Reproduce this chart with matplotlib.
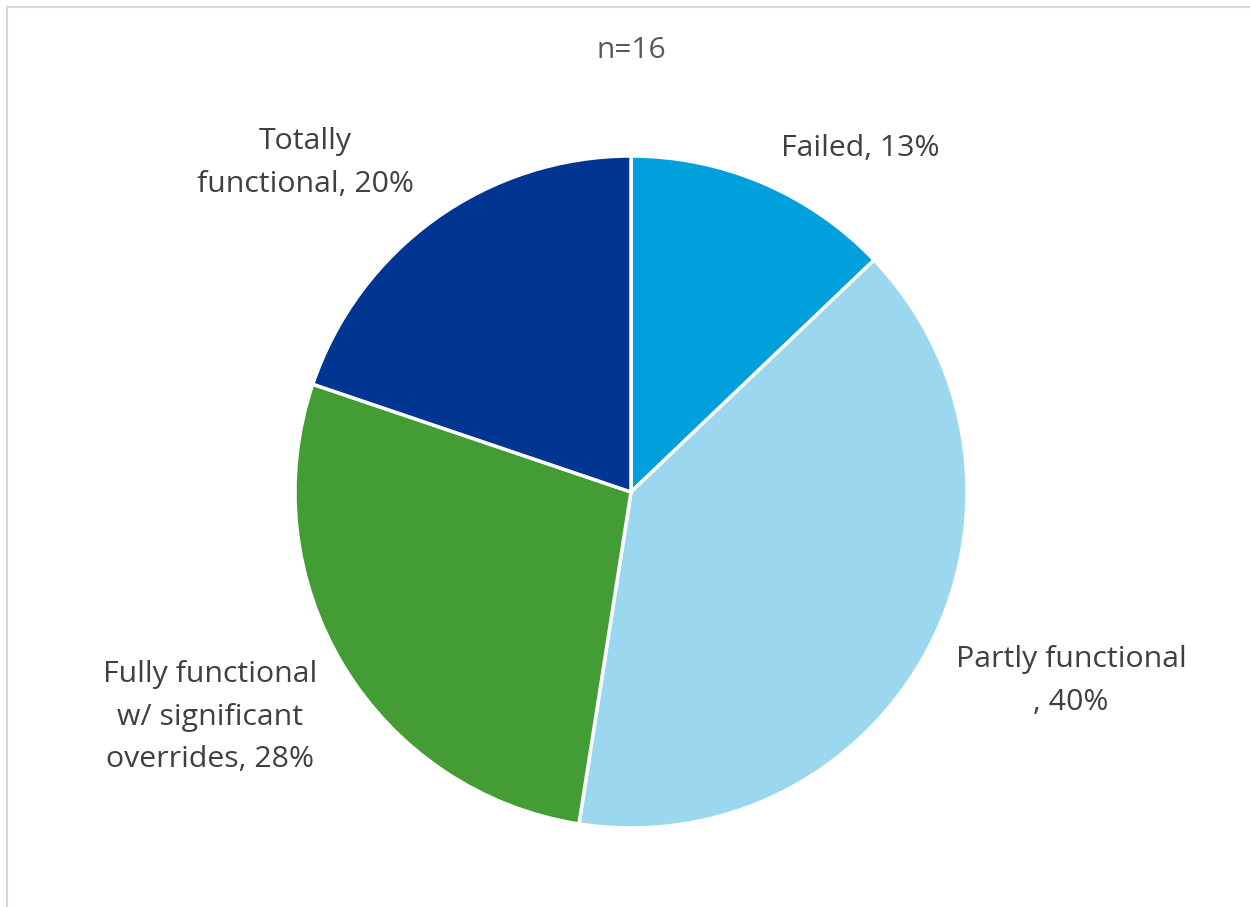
import matplotlib.pyplot as plt
from matplotlib.lines import Line2D

# data
categories = ["Failed", "Partly functional", "Fully functional w/ significant overrides", "Totally functional"]
shares = [13, 40, 28, 20]
label_texts = ["Failed, 13%", "Partly functional\n, 40%",
               "Fully functional\nw/ significant\noverrides, 28%", "Totally\nfunctional, 20%"]
colors = ["#00A0DC", "#9BD7EE", "#439C34", "#003591"]
subtitle = "n=16"

W, H = 1250, 907
fig = plt.figure(figsize=(W / 100, H / 100), dpi=100)
ax = fig.add_axes([0, 0, 1, 1])

cx, cy, r = 631, H - 492, 336
ax.pie(shares, colors=colors, startangle=90, counterclock=False,
       center=(cx, cy), radius=r, frame=True,
       wedgeprops=dict(edgecolor="white", linewidth=2.5))
ax.set_xlim(0, W)
ax.set_ylim(0, H)
ax.set_aspect("equal")
ax.axis("off")

# labels placed outside the pie
label_pos = [(860, 148), (1071, 681), (210, 717), (305, 163)]
for txt, (x, y) in zip(label_texts, label_pos):
    ax.text(x, H - y, txt, ha="center", va="center", fontsize=21.8,
            color="#404040", family="Open Sans", linespacing=1.62)

ax.text(631, H - 50, subtitle, ha="center", va="center", fontsize=21.5,
        color="#595959", family="Open Sans")

# chart border (light gray)
fig.add_artist(Line2D([7 / W, 7 / W], [0, 1 - 7 / H], transform=fig.transFigure,
                      color="#D9D9D9", lw=1.5))
fig.add_artist(Line2D([7 / W, 1], [1 - 7 / H, 1 - 7 / H], transform=fig.transFigure,
                      color="#D9D9D9", lw=1.5))

fig.savefig("out.png", dpi=100)
